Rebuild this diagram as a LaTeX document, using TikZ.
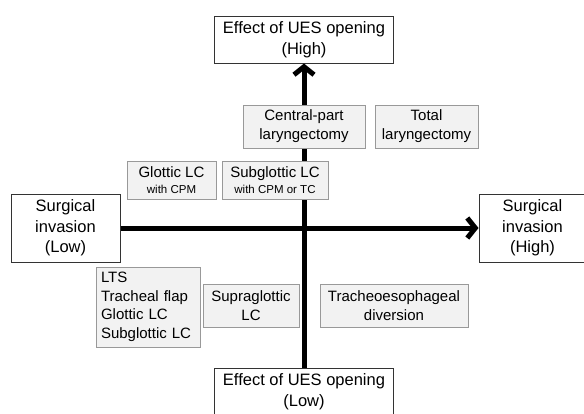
\documentclass[tikz,border=0pt]{standalone}
\usepackage{fontspec}
\setmainfont{Liberation Sans}
\usetikzlibrary{arrows.meta}
\tikzset{
  axisbox/.style={draw=black!80, line width=1pt, fill=white, inner sep=0pt, align=center,
    font=\fontsize{16.5}{20.5}\selectfont},
  itembox/.style={draw=black!40, line width=1pt, fill=black!5, inner sep=0pt, align=center,
    font=\fontsize{15}{19}\selectfont},
  axisline/.style={line width=5pt, -{Straight Barb[length=8pt,width=20pt]}},
}
\def\sm{\fontsize{11.5}{14}\selectfont}

\begin{document}
\begin{tikzpicture}[x=1pt, y=-1pt]
			%%%%% FRAME %%%%%
			\useasboundingbox (0, 0) rectangle (584, 413);
			\clip (0, 0) rectangle (584, 413);
			\fill[white] (0, 0) rectangle (584, 413);
			
			%%%%% AXIS ENDS %%%%%
			\node[axisbox, minimum width=179pt, minimum height=47pt] (high) at (304, 39.5) {Effect of UES opening\\(High)};
			\node[axisbox, minimum width=179pt, minimum height=47pt] (low) at (304, 391.5) {Effect of UES opening\\(Low)};
			\node[axisbox, minimum width=109pt, minimum height=68pt] (invlow) at (65.5, 228) {Surgical\\invasion\\(Low)};
			\node[axisbox, minimum width=107pt, minimum height=68pt] (invhigh) at (532.5, 228) {Surgical\\invasion\\(High)};
			
			%%%%% AXES %%%%%
			\draw[axisline] (low.north) -- (high.south);
			\draw[axisline] (invlow.east) -- (invhigh.west);
			
			%%%%% PROCEDURES %%%%%
			\node[itembox, minimum width=122pt, minimum height=43pt] (central) at (304, 126.5) {Central-part\\laryngectomy};
			\node[itembox, minimum width=103pt, minimum height=43pt] (total) at (426.5, 126.5) {Total\\laryngectomy};
			
			\node[itembox, minimum width=89pt, minimum height=38pt] (glotcpm) at (171.5, 180) {Glottic LC\\[-3pt]{\sm with CPM}};
			\node[itembox, minimum width=106pt, minimum height=38pt] (subcpm) at (275, 180) {Subglottic LC\\[-3pt]{\sm with CPM or TC}};
			
			\node[itembox, minimum width=104pt, minimum height=80pt, align=left, text width=94pt, font=\fontsize{15}{18.5}\selectfont] (lts) at (148, 307) {LTS\\Tracheal flap\\Glottic LC\\Subglottic LC};
			\node[itembox, minimum width=96pt, minimum height=43pt] (supra) at (251, 305.5) {Supraglottic\\LC};
			\node[itembox, minimum width=148pt, minimum height=43pt] (tracheo) at (394, 305.5) {Tracheoesophageal\\diversion};
			
			%%%%% END %%%%%
\end{tikzpicture}
\end{document}
